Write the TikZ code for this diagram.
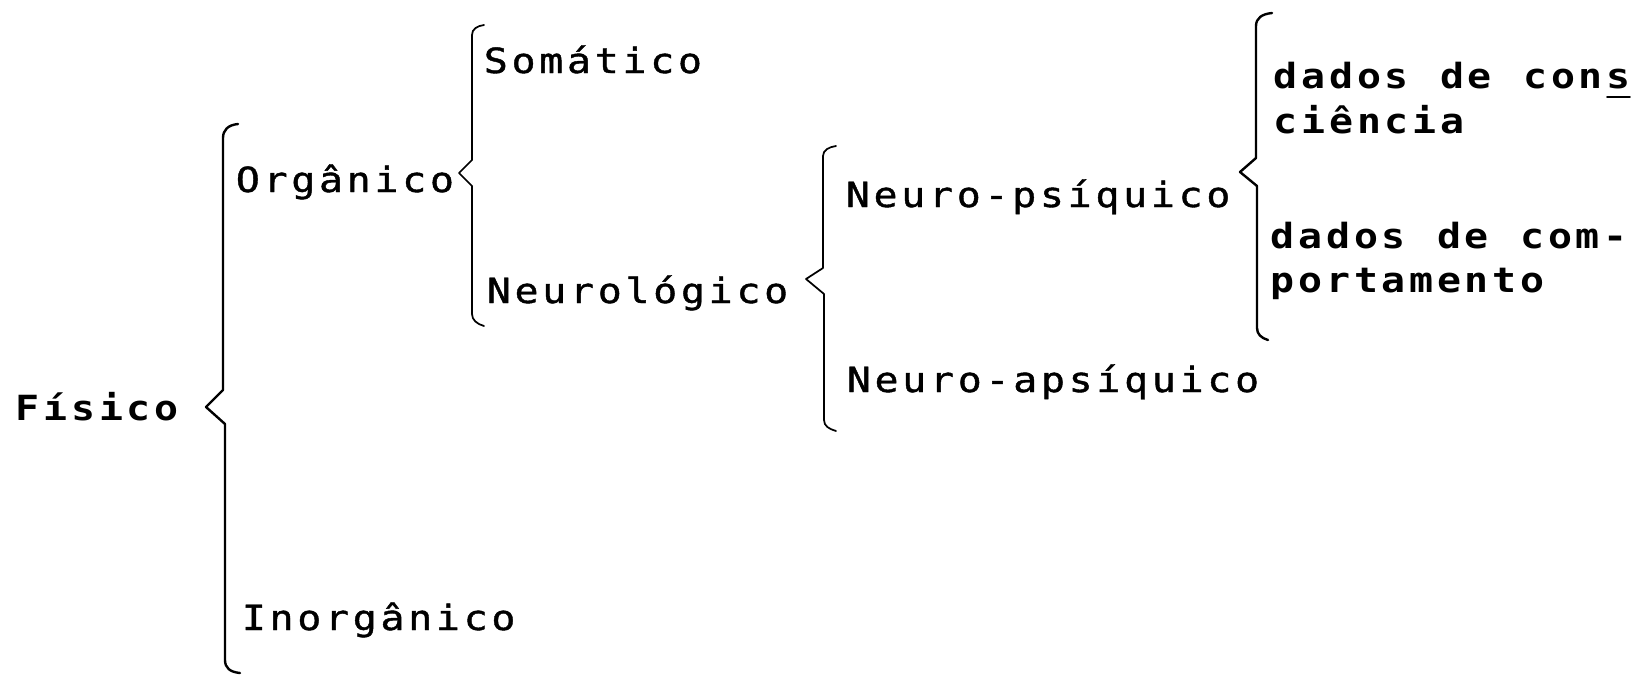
\documentclass[tikz,border=0pt]{standalone}
\usepackage{fontspec}
\newfontfamily\twreg[FakeStretch=1.15,FakeBold=1.2]{DejaVu Sans Mono}
\newfontfamily\twbold[FakeStretch=1.15]{DejaVu Sans Mono Bold}
\newlength\pitch
\setlength\pitch{20.8pt}
\makeatletter
\def\spaced#1{\sp@loop#1\relax}
\def\sp@loop#1{\ifx#1\relax\else\makebox[\pitch]{#1}\expandafter\sp@loop\fi}
\makeatother
\tikzset{
  lbl/.style={inner sep=0pt, outer sep=0pt, anchor=base west,
    font=\twreg\fontsize{26pt}{30pt}\selectfont},
  lblb/.style={lbl, font=\twbold\fontsize{26pt}{30pt}\selectfont},
  brc/.style={line width=1.8pt, line cap=round, line join=round},
  brcthin/.style={line width=1.3pt, line cap=round, line join=round}
}
\begin{document}
\begin{tikzpicture}[x=0.75pt, y=-0.75pt]
\useasboundingbox (0,0) rectangle (1634,675);
% labels
\node[lblb] (fisico) at (14,420) {\spaced{Físico}};
\node[lbl] (organico) at (234,192) {\spaced{Orgânico}};
\node[lbl] (inorganico) at (240,630) {\spaced{Inorgânico}};
\node[lbl] (somatico) at (482,73) {\spaced{Somático}};
\node[lbl] (neurologico) at (485,303) {\spaced{Neurológico}};
\node[lbl] (psiquico) at (844,207) {\spaced{Neuro-psíquico}};
\node[lbl] (apsiquico) at (845,392) {\spaced{Neuro-apsíquico}};
\node[lblb] (cons) at (1272,88) {\spaced{dados~de~cons}};
\node[lblb] (ciencia) at (1272,133) {\spaced{ciência}};
\node[lblb] (com) at (1269,248) {\spaced{dados~de~com-}};
\node[lblb] (portamento) at (1269,292) {\spaced{portamento}};
% underline of the split s
\draw[brcthin] (1607,97) -- (1630,97);
% brace of Físico
\draw[brc] (238,124) .. controls (228,125) and (223,130) .. (223,138)
  -- (223,390) -- (206,407) -- (225,424) -- (225,660)
  .. controls (225,668) and (230,672) .. (240,673);
% brace of Orgânico
\draw[brcthin] (484,25) .. controls (477,26) and (472,29) .. (472,35)
  -- (472,160) -- (459,173) -- (472,186) -- (472,314)
  .. controls (472,320) and (477,324) .. (484,326);
% brace of Neurológico
\draw[brcthin] (836,146) .. controls (829,147) and (823,150) .. (823,156)
  -- (823,268) -- (806,279) -- (824,294) -- (824,420)
  .. controls (824,426) and (829,429) .. (836,431);
% brace of Neuro-psíquico
\draw[brc] (1272,13) .. controls (1262,14) and (1256,18) .. (1256,26)
  -- (1256,158) -- (1240,172) -- (1257,186) -- (1257,328)
  .. controls (1257,334) and (1261,338) .. (1268,340);
\end{tikzpicture}
\end{document}
